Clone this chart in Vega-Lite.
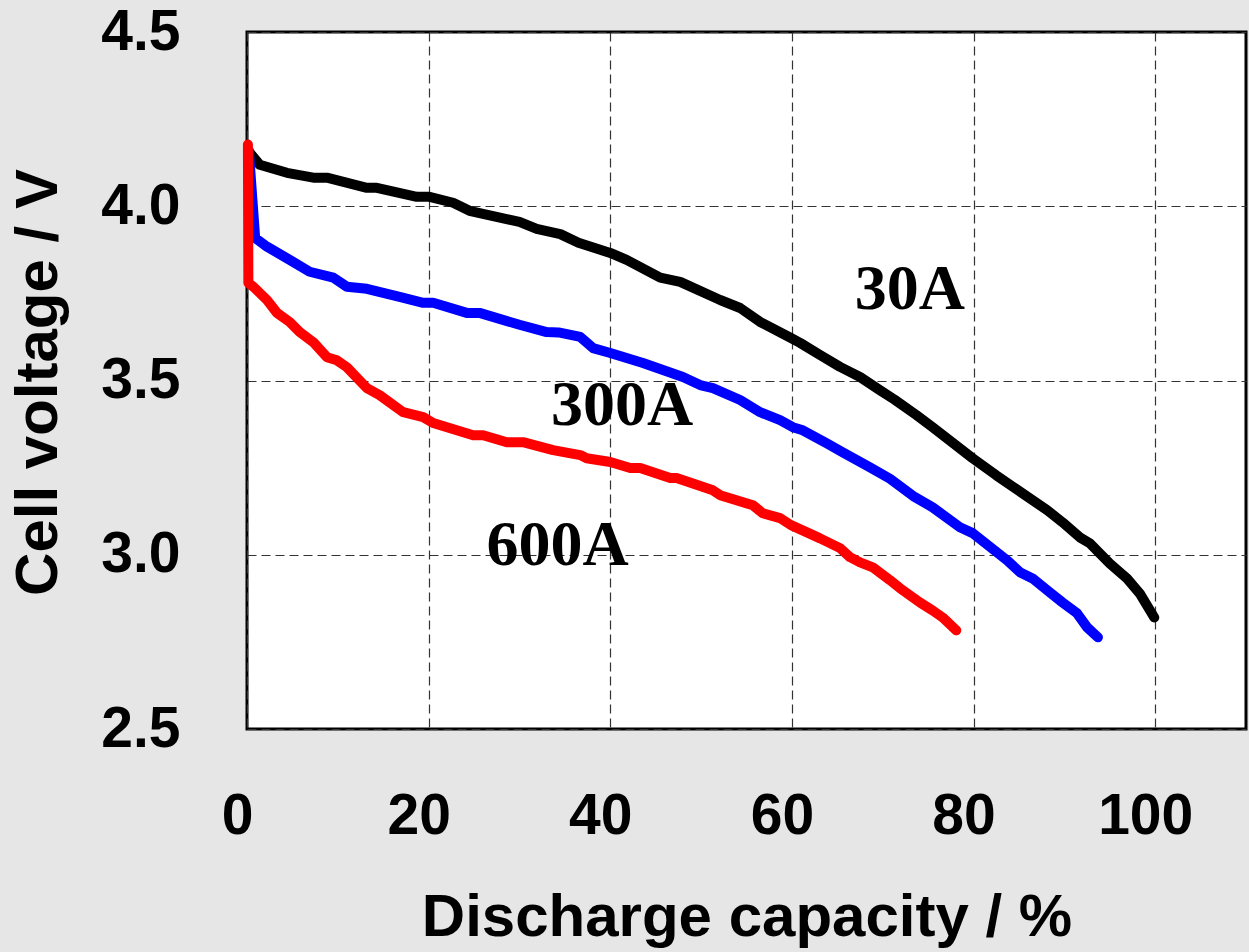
{
  "$schema": "https://vega.github.io/schema/vega-lite/v6.json",
  "autosize": {"type": "none"},
  "width": 999,
  "height": 697,
  "padding": {"left": 247, "top": 32, "right": 3, "bottom": 223},
  "background": "#e6e6e6",
  "config": {
    "view": {"stroke": "#000000", "strokeWidth": 3, "fill": "#ffffff"},
    "axis": {
      "grid": true, "gridColor": "#333333", "gridDash": [9, 5], "gridWidth": 1.2,
      "ticks": false, "tickSize": 0, "domain": false, "labelFlush": false, "labelOverlap": false,
      "labelFont": "Liberation Sans", "labelFontWeight": "bold", "labelFontSize": 57, "labelColor": "#000000",
      "titleFont": "Liberation Sans", "titleFontWeight": "bold", "titleFontSize": 60, "titleColor": "#000000"
    }
  },
  "datasets": {
    "curves": [
      {"s":"30A","x":0.3,"y":4.154},{"s":"30A","x":1.4,"y":4.119},{"s":"30A","x":4.4,"y":4.096},{"s":"30A","x":7.3,"y":4.082},{"s":"30A","x":8.8,"y":4.082},{"s":"30A","x":13.2,"y":4.053},{"s":"30A","x":14.3,"y":4.053},{"s":"30A","x":18.7,"y":4.027},{"s":"30A","x":20.1,"y":4.027},{"s":"30A","x":22.7,"y":4.010},{"s":"30A","x":24.5,"y":3.987},{"s":"30A","x":30,"y":3.955},{"s":"30A","x":31.9,"y":3.935},{"s":"30A","x":34.5,"y":3.920},{"s":"30A","x":36.5,"y":3.895},{"s":"30A","x":40,"y":3.866},{"s":"30A","x":41.8,"y":3.846},{"s":"30A","x":45.5,"y":3.795},{"s":"30A","x":47.7,"y":3.783},{"s":"30A","x":52.1,"y":3.731},{"s":"30A","x":54.3,"y":3.708},{"s":"30A","x":56.5,"y":3.668},{"s":"30A","x":59.9,"y":3.622},{"s":"30A","x":60.9,"y":3.608},{"s":"30A","x":63.1,"y":3.573},{"s":"30A","x":65.3,"y":3.539},{"s":"30A","x":67.5,"y":3.510},{"s":"30A","x":69.7,"y":3.472},{"s":"30A","x":71.3,"y":3.445},{"s":"30A","x":73.7,"y":3.401},{"s":"30A","x":75.5,"y":3.366},{"s":"30A","x":79.9,"y":3.277},{"s":"30A","x":82.5,"y":3.228},{"s":"30A","x":88.1,"y":3.128},{"s":"30A","x":89.8,"y":3.093},{"s":"30A","x":91.7,"y":3.050},{"s":"30A","x":92.8,"y":3.033},{"s":"30A","x":95,"y":2.975},{"s":"30A","x":96.9,"y":2.932},{"s":"30A","x":98.3,"y":2.889},{"s":"30A","x":99.9,"y":2.820},
      {"s":"300A","x":0.2,"y":4.16},{"s":"300A","x":0.9,"y":3.909},{"s":"300A","x":2.2,"y":3.884},{"s":"300A","x":4.7,"y":3.846},{"s":"300A","x":6.9,"y":3.812},{"s":"300A","x":9.5,"y":3.795},{"s":"300A","x":11,"y":3.769},{"s":"300A","x":13.2,"y":3.763},{"s":"300A","x":16.8,"y":3.740},{"s":"300A","x":19.4,"y":3.723},{"s":"300A","x":20.5,"y":3.723},{"s":"300A","x":24.2,"y":3.694},{"s":"300A","x":25.6,"y":3.694},{"s":"300A","x":30,"y":3.660},{"s":"300A","x":33,"y":3.639},{"s":"300A","x":34.3,"y":3.638},{"s":"300A","x":36.7,"y":3.625},{"s":"300A","x":38.1,"y":3.593},{"s":"300A","x":40,"y":3.579},{"s":"300A","x":43.6,"y":3.550},{"s":"300A","x":45.8,"y":3.530},{"s":"300A","x":48,"y":3.510},{"s":"300A","x":49.9,"y":3.487},{"s":"300A","x":51.3,"y":3.478},{"s":"300A","x":54.3,"y":3.444},{"s":"300A","x":56.5,"y":3.409},{"s":"300A","x":58.7,"y":3.386},{"s":"300A","x":60.1,"y":3.366},{"s":"300A","x":61.2,"y":3.357},{"s":"300A","x":63.8,"y":3.320},{"s":"300A","x":65.6,"y":3.294},{"s":"300A","x":68.6,"y":3.251},{"s":"300A","x":70.8,"y":3.218},{"s":"300A","x":73.5,"y":3.166},{"s":"300A","x":75.5,"y":3.136},{"s":"300A","x":78.5,"y":3.079},{"s":"300A","x":79.9,"y":3.062},{"s":"300A","x":83.7,"y":2.984},{"s":"300A","x":85.1,"y":2.950},{"s":"300A","x":86.5,"y":2.932},{"s":"300A","x":88.4,"y":2.892},{"s":"300A","x":89.8,"y":2.863},{"s":"300A","x":91.4,"y":2.832},{"s":"300A","x":92.5,"y":2.792},{"s":"300A","x":93.7,"y":2.763},
      {"s":"600A","x":0.1,"y":4.177},{"s":"600A","x":0.15,"y":3.78},{"s":"600A","x":0.7,"y":3.769},{"s":"600A","x":2.2,"y":3.731},{"s":"600A","x":3.3,"y":3.694},{"s":"600A","x":4.7,"y":3.668},{"s":"600A","x":5.8,"y":3.639},{"s":"600A","x":7.3,"y":3.610},{"s":"600A","x":8.8,"y":3.567},{"s":"600A","x":9.9,"y":3.558},{"s":"600A","x":11,"y":3.538},{"s":"600A","x":13.2,"y":3.478},{"s":"600A","x":14.6,"y":3.458},{"s":"600A","x":17.2,"y":3.409},{"s":"600A","x":19.4,"y":3.395},{"s":"600A","x":20.5,"y":3.378},{"s":"600A","x":24.9,"y":3.343},{"s":"600A","x":26,"y":3.343},{"s":"600A","x":28.6,"y":3.323},{"s":"600A","x":30.4,"y":3.323},{"s":"600A","x":33.7,"y":3.300},{"s":"600A","x":36.7,"y":3.286},{"s":"600A","x":37.4,"y":3.277},{"s":"600A","x":40,"y":3.266},{"s":"600A","x":42.2,"y":3.249},{"s":"600A","x":43.3,"y":3.249},{"s":"600A","x":46.6,"y":3.220},{"s":"600A","x":47.3,"y":3.220},{"s":"600A","x":51.3,"y":3.185},{"s":"600A","x":52.1,"y":3.171},{"s":"600A","x":55.7,"y":3.142},{"s":"600A","x":56.8,"y":3.119},{"s":"600A","x":58.7,"y":3.105},{"s":"600A","x":59.9,"y":3.085},{"s":"600A","x":61.6,"y":3.065},{"s":"600A","x":63.1,"y":3.047},{"s":"600A","x":65.3,"y":3.019},{"s":"600A","x":66.4,"y":2.993},{"s":"600A","x":67.5,"y":2.978},{"s":"600A","x":68.9,"y":2.964},{"s":"600A","x":70.8,"y":2.927},{"s":"600A","x":71.9,"y":2.904},{"s":"600A","x":74.1,"y":2.863},{"s":"600A","x":75.5,"y":2.840},{"s":"600A","x":76.6,"y":2.820},{"s":"600A","x":78.1,"y":2.783}
    ],
    "labels": [
      {"label": "30A", "x": 73, "y": 3.705},
      {"label": "300A", "x": 41.3, "y": 3.372},
      {"label": "600A", "x": 34.2, "y": 2.970}
    ]
  },
  "layer": [
    {
      "data": {"name": "curves"},
      "transform": [{"filter": "datum.s === '30A'"}],
      "mark": {"type": "line", "stroke": "#000000", "strokeWidth": 10, "strokeCap": "round", "strokeJoin": "round"},
      "encoding": {
        "x": {"field": "x", "type": "quantitative", "scale": {"domain": [0, 110], "nice": false},
          "axis": {"values": [0, 20, 40, 60, 80, 100], "title": "Discharge capacity / %", "labelPadding": 59, "labelOffset": -10,
            "titleY": 206, "titleBaseline": "alphabetic", "titleAlign": "center"}},
        "y": {"field": "y", "type": "quantitative", "scale": {"domain": [2.5, 4.5], "nice": false, "zero": false},
          "axis": {"values": [2.5, 3.0, 3.5, 4.0, 4.5], "format": ".1f", "title": "Cell voltage / V", "labelPadding": 67,
            "titleAngle": -90, "titleX": -191, "titleY": 350, "titleBaseline": "alphabetic", "titleAlign": "center"}},
        "order": {"value": null}
      }
    },
    {
      "data": {"name": "curves"},
      "transform": [{"filter": "datum.s === '300A'"}],
      "mark": {"type": "line", "stroke": "#0000ff", "strokeWidth": 10, "strokeCap": "round", "strokeJoin": "round"},
      "encoding": {
        "x": {"field": "x", "type": "quantitative"},
        "y": {"field": "y", "type": "quantitative"},
        "order": {"value": null}
      }
    },
    {
      "data": {"name": "curves"},
      "transform": [{"filter": "datum.s === '600A'"}],
      "mark": {"type": "line", "stroke": "#ff0000", "strokeWidth": 10, "strokeCap": "round", "strokeJoin": "round"},
      "encoding": {
        "x": {"field": "x", "type": "quantitative"},
        "y": {"field": "y", "type": "quantitative"},
        "order": {"value": null}
      }
    },
    {
      "data": {"name": "labels"},
      "mark": {"type": "text", "font": "Liberation Serif", "fontWeight": "bold", "fontSize": 64, "align": "center", "baseline": "alphabetic", "color": "#000000"},
      "encoding": {
        "x": {"field": "x", "type": "quantitative"},
        "y": {"field": "y", "type": "quantitative"},
        "text": {"field": "label"}
      }
    }
  ]
}
